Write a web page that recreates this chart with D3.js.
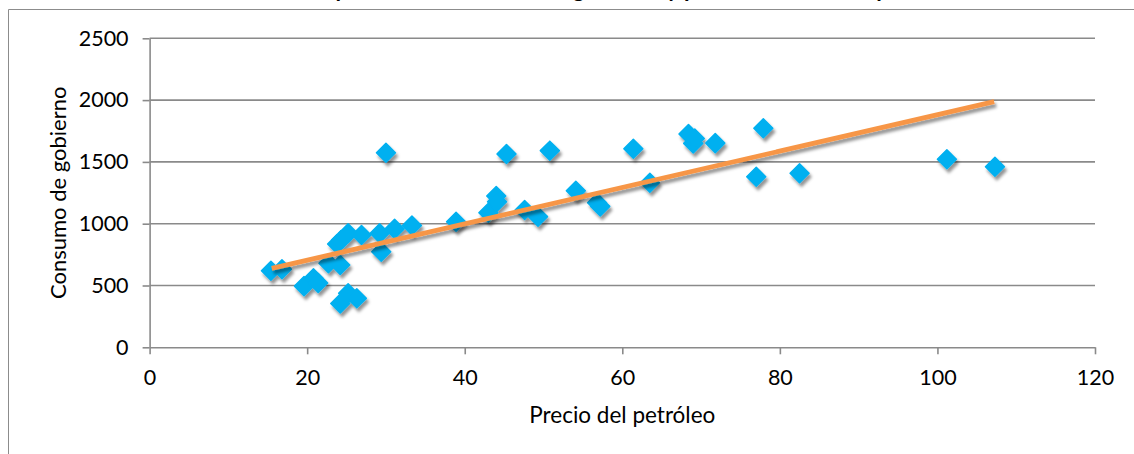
<!DOCTYPE html>
<html><head><meta charset="utf-8">
<script src="https://cdn.jsdelivr.net/npm/d3@7"></script>
<style>
html,body{margin:0;padding:0;background:#fff;}
svg{display:block;}
text{font-family:Lato,"Open Sans",sans-serif;fill:#000;}
</style></head>
<body>
<svg id="c" width="1134" height="454"></svg>
<script>
// ---- data ----
const title = "Dispersión de consumo de gobierno y precio del barril de petróleo";
const xLabel = "Precio del petróleo";
const yLabel = "Consumo de gobierno";
const xTicks = [0, 20, 40, 60, 80, 100, 120];
const yTicks = [0, 500, 1000, 1500, 2000, 2500];
const precio = [15.4, 16.8, 19.6, 20.8, 21.4, 22.7, 24.2, 24.2, 25.2, 26.3, 23.8, 24.3, 25.2, 26.9, 29.2, 29.4, 30.0, 31.1, 33.3, 38.9, 43.0, 44.0, 44.1, 45.3, 47.6, 49.3, 50.8, 54.1, 56.8, 57.2, 61.4, 63.5, 68.4, 69.0, 69.2, 71.8, 77.0, 77.9, 82.5, 101.2, 107.3];
const consumo = [620, 631, 495, 558, 520, 680, 666, 355, 437, 396, 835, 868, 922, 909, 922, 773, 1574, 958, 985, 1016, 1089, 1224, 1178, 1564, 1111, 1057, 1591, 1267, 1170, 1140, 1607, 1332, 1726, 1650, 1690, 1652, 1380, 1772, 1408, 1521, 1461];
const trendX = [15.5, 107.2];
const trendY = [639, 1987];

// ---- chart ----
const svg = d3.select("#c");
const x = d3.scaleLinear().domain([0, 120]).range([149.6, 1095]);
const y = d3.scaleLinear().domain([0, 2500]).range([347.3, 38.3]);
const gridCol = "#8a8a8a";

const defs = svg.append("defs");
const f = defs.append("filter").attr("id", "sh").attr("x", "-50%").attr("y", "-50%").attr("width", "200%").attr("height", "200%");
f.append("feDropShadow").attr("dx", 2).attr("dy", 3.5).attr("stdDeviation", 1.8).attr("flood-color", "#000").attr("flood-opacity", 0.42);

// outer chart border (top and left visible)
svg.append("line").attr("x1", 8.5).attr("x2", 1134).attr("y1", 9.5).attr("y2", 9.5).attr("stroke", "#8c8c8c").attr("stroke-width", 1);
svg.append("line").attr("x1", 8.5).attr("x2", 8.5).attr("y1", 9.5).attr("y2", 454).attr("stroke", "#8c8c8c").attr("stroke-width", 1);

// title (cut off above the picture, only descenders show)
svg.append("text").attr("x", 303).attr("y", -2.8).attr("font-size", 24).attr("font-weight", "bold")
  .attr("textLength", 658).attr("lengthAdjust", "spacingAndGlyphs").text(title);

// gridlines
svg.append("g").selectAll("line").data(yTicks.filter(d => d > 0)).join("line")
  .attr("x1", x(0)).attr("x2", x(120)).attr("y1", d => y(d)).attr("y2", d => y(d))
  .attr("stroke", gridCol).attr("stroke-width", 1.6);

// y axis
const ya = svg.append("g").attr("transform", `translate(${x(0)},0)`)
  .call(d3.axisLeft(y).tickValues(yTicks).tickFormat(d3.format("d")).tickSize(7).tickSizeOuter(0).tickPadding(14));
// x axis
const xa = svg.append("g").attr("transform", `translate(0,${y(0)})`)
  .call(d3.axisBottom(x).tickValues(xTicks).tickFormat(d3.format("d")).tickSize(7).tickSizeOuter(0).tickPadding(15));
[ya, xa].forEach(g => {
  g.select(".domain").attr("stroke", gridCol).attr("stroke-width", 1.6);
  g.selectAll(".tick line").attr("stroke", gridCol).attr("stroke-width", 1.6);
  g.selectAll("text").attr("font-size", 21.5).attr("font-family", "Lato, sans-serif").attr("fill", "#000");
});

// axis titles
svg.append("text").attr("x", x(60)).attr("y", 423).attr("text-anchor", "middle").attr("font-size", 22.5).text(xLabel);
svg.append("text").attr("transform", `translate(66,${(y(0) + y(2500)) / 2}) rotate(-90)`).attr("text-anchor", "middle").attr("font-size", 22).text(yLabel);

// points
const pts = precio.map((p, i) => ({ p, c: consumo[i] }));
const sym = d3.symbol().type(d3.symbolSquare).size(180);
svg.append("g").attr("filter", "url(#sh)").selectAll("path").data(pts).join("path")
  .attr("d", sym)
  .attr("transform", d => `translate(${x(d.p)},${y(d.c)}) rotate(45)`)
  .attr("fill", "#00b0f0").attr("stroke", "#00b0f0").attr("stroke-width", 1.5).attr("stroke-linejoin", "round");

// trendline
const tl = trendX.map((t, i) => [t, trendY[i]]);
svg.append("path").datum(tl).attr("filter", "url(#sh)")
  .attr("d", d3.line().x(d => x(d[0])).y(d => y(d[1])))
  .attr("fill", "none").attr("stroke", "#f79646").attr("stroke-width", 4.8).attr("stroke-linecap", "butt");
</script>
</body></html>
